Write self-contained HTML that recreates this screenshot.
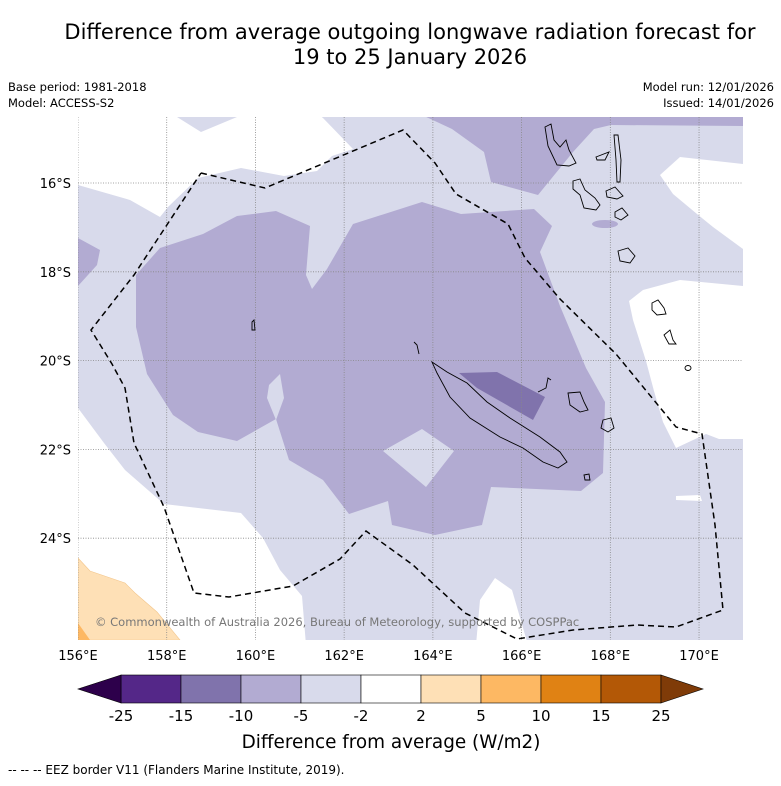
<!DOCTYPE html>
<html><head><meta charset="utf-8"><style>
body{margin:0;background:#fff;}
svg text{font-family:"DejaVu Sans","Liberation Sans",sans-serif;}
</style></head><body>
<svg id="c" width="781" height="781" viewBox="0 0 781 781" xmlns="http://www.w3.org/2000/svg">
<text x="410" y="39" text-anchor="middle" font-size="21">Difference from average outgoing longwave radiation forecast for</text>
<text x="410" y="64" text-anchor="middle" font-size="21">19 to 25 January 2026</text>
<text x="8" y="91" font-size="11.5">Base period: 1981-2018</text>
<text x="8" y="107" font-size="11.5">Model: ACCESS-S2</text>
<text x="774" y="91" font-size="11.5" text-anchor="end">Model run: 12/01/2026</text>
<text x="774" y="107" font-size="11.5" text-anchor="end">Issued: 14/01/2026</text>
<defs><clipPath id="mc"><rect x="78" y="117" width="665" height="523"/></clipPath></defs>
<g clip-path="url(#mc)" id="map">
<rect x="78" y="117" width="665" height="523" fill="#d8daeb"/>
<polygon fill="#fff" points="78,117 177,117 201,132 237,117 319,115 323,118 353,149 332,156 317,171 284,176 241,168 198,178 168,207 160,217 130,200 78,185"/>
<polygon fill="#fff" points="660,175 680,157 743,164 743,249 713,227 697,214 673,194"/>
<polygon fill="#fff" points="629,301 643,290 680,280 743,286 743,439 719,439 706,434 676,448 663,422 654,391 646,361 633,320"/>
<polygon fill="#fff" points="676,496 700,495 702,501 676,500"/>
<polygon fill="#fff" points="78,408 104,443 125,470 164,504 241,513 263,538 280,570 302,596 306,645 78,645"/>
<polygon fill="#fff" points="476,645 480,600 495,578 512,590 528,645"/>
<polygon fill="#b2abd2" points="422,115 743,115 743,126 611,125 594,129 573,152 538,195 491,182 484,152 452,129"/>
<polygon fill="#b2abd2" points="78,238 100,250 97,265 78,286"/>
<ellipse fill="#b2abd2" cx="605" cy="224" rx="13" ry="4"/>
<polygon fill="#b2abd2" points="136,275 160,248 203,234 237,216 276,211 310,226 306,275 312,289 327,269 353,224 422,202 461,214 534,209 552,226 540,252 560,306 586,368 605,402 603,473 581,491 491,487 482,525 435,535 392,525 388,501 349,514 323,480 289,460 276,419 237,441 198,432 173,415 147,374 136,327"/>
<polygon fill="#d8daeb" points="269,385 280,374 284,398 276,420 267,398"/>
<polygon fill="#d8daeb" points="383,451 422,429 454,451 426,487"/>
<polygon fill="#8073ac" points="459,373 497,372 545,397 533,420 477,388"/>
<polygon fill="#fee0b6" stroke="#f3c68c" stroke-width="0.6" points="78,558 90,571 125,583 135,593 157,612 180,640 78,640"/>
<polygon fill="#fdb863" points="78,623 90,640 78,640"/>
<g id="grid"></g>
<g fill="none" stroke="#000" stroke-width="0.9">
<path d="M432,362 L447,372 L467,383 L487,402 L510,418 L540,437 L560,452 L567,462 L558,468 L543,462 L523,448 L500,437 L470,418 L450,397 L437,373 Z"/>
<path d="M538,392 L546,388 L548,378 L551,380"/>
<path d="M568,393 L580,392 L584,402 L588,410 L580,412 L570,405 Z"/>
<path d="M603,420 L611,418 L614,428 L608,432 L601,428 Z"/>
<path d="M584,475 L589,474 L590,480 L585,480 Z"/>
<path d="M545,127 L551,124 L554,140 L560,147 L566,140 L569,150 L576,163 L569,166 L557,165 L548,146 Z"/>
<path d="M573,181 L580,179 L585,190 L595,198 L600,205 L596,210 L584,208 L580,195 L573,189 Z"/>
<path d="M606,191 L615,187 L623,196 L617,199 L607,197 Z"/>
<path d="M614,135 L618,135 L621,160 L620,182 L617,182 L616,160 Z"/>
<path d="M596,157 L609,152 L605,160 L597,160 Z"/>
<path d="M615,212 L622,208 L628,215 L621,220 L615,217 Z"/>
<path d="M618,251 L628,248 L635,256 L630,263 L620,261 Z"/>
<path d="M652,303 L658,300 L664,308 L666,314 L657,315 L652,310 Z"/>
<path d="M664,335 L670,330 L673,340 L676,344 L669,344 Z"/>
<ellipse cx="688" cy="368" rx="3" ry="2.5"/>
<path d="M252,322 L254,320 L255,330 L252,330 Z"/>
<path d="M414,342 L417,345 L419,354"/>
</g>
<polyline id="eez" fill="none" stroke="#000" stroke-width="1.5" stroke-dasharray="6,4" points="201,173 265,188 403,130 435,163 456,194 508,224 525,258 560,299 616,354 676,427 702,434 715,525 723,610 676,627 637,625 573,630 517,639 465,613 413,565 366,531 340,559 293,586 229,597 194,593 164,507 134,443 125,388 112,364 91,330 134,275 201,173"/>
<text x="95" y="626" font-size="11.5" fill="#777">© Commonwealth of Australia 2026, Bureau of Meteorology, supported by COSPPac</text>
</g>
<g id="axes"></g>
<g id="cbar"></g>
<text x="391" y="748" text-anchor="middle" font-size="18.4">Difference from average (W/m2)</text>
<text x="8" y="774" font-size="12">--  --  -- EEZ border V11 (Flanders Marine Institute, 2019).</text>
</svg>
<script>
const lonTicks=[156,158,160,162,164,166,168,170];
const latTicks=[16,18,20,22,24];
const cbLevels=[-25,-15,-10,-5,-2,2,5,10,15,25];
const cbColors=["#542788","#8073ac","#b2abd2","#d8daeb","#ffffff","#fee0b6","#fdb863","#e08214","#b35806"];
const cbExtend=["#2d004b","#7f3b08"];
const NS="http://www.w3.org/2000/svg";
const xOf=lon=>78+(lon-156)*44.36;
const yOf=lat=>183+(lat-16)*44.4;
function mk(t,a,p){const e=document.createElementNS(NS,t);for(const k in a)e.setAttribute(k,a[k]);p.appendChild(e);return e;}
const grid=document.getElementById('grid'),axes=document.getElementById('axes');
lonTicks.forEach(l=>{const x=xOf(l);
const g=mk('line',{x1:x,x2:x,y1:117,y2:640,stroke:'#888','stroke-width':0.8,'stroke-dasharray':'1,1.5'},grid);


const t=mk('text',{x:x,y:660,'text-anchor':'middle','font-size':13},axes);t.textContent=l+'°E';

});
latTicks.forEach(l=>{const y=yOf(l);
const g=mk('line',{x1:78,x2:743,y1:y,y2:y,stroke:'#888','stroke-width':0.8,'stroke-dasharray':'1,1.5'},grid);


const t=mk('text',{x:71,y:y+5,'text-anchor':'end','font-size':13},axes);t.textContent=l+'°S';

});
const cb=document.getElementById('cbar');
const bx=i=>121+i*60, y0=675,y1=703,ym=689;
cbColors.forEach((c,i)=>{const r=mk('rect',{x:bx(i),y:y0,width:60,height:28,fill:c,stroke:'#000','stroke-width':0.6},cb);

});
const tl=mk('polygon',{points:`${bx(0)},${y0} 78,${ym} ${bx(0)},${y1}`,fill:cbExtend[0],stroke:'#000','stroke-width':0.6},cb);


const n=cbColors.length;
const tr=mk('polygon',{points:`${bx(n)},${y0} 703,${ym} ${bx(n)},${y1}`,fill:cbExtend[1],stroke:'#000','stroke-width':0.6},cb);


cbLevels.forEach((v,i)=>{const t=mk('text',{x:bx(i),y:721,'text-anchor':'middle','font-size':15},cb);t.textContent=v;

});
</script>
</body></html>
